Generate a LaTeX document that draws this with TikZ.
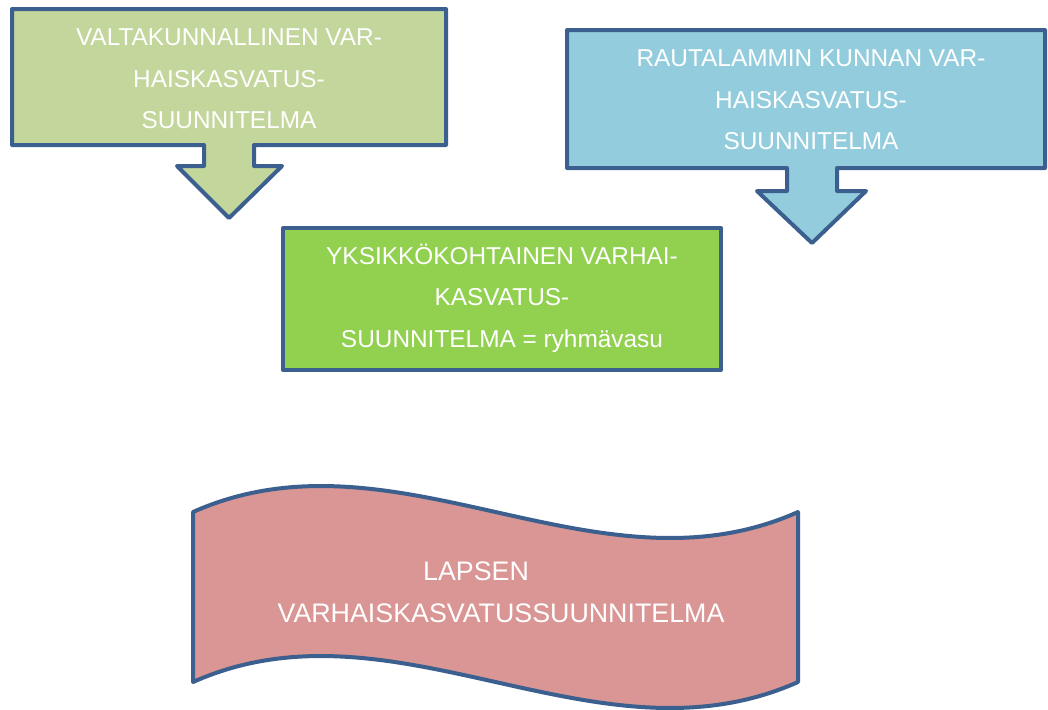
\documentclass[tikz,border=0pt]{standalone}
\usepackage{fontspec}
\setmainfont{Liberation Sans}
\definecolor{frameblue}{HTML}{3B5F8E}
\definecolor{palegreen}{HTML}{C3D69B}
\definecolor{paleblue}{HTML}{93CDDD}
\definecolor{brightgreen}{HTML}{92D050}
\definecolor{palerose}{HTML}{D99694}
\tikzset{
  shapeline/.style={line width=2pt, draw=frameblue, line join=round},
  vasutext/.style={text=white, align=center, inner sep=0pt,
    font=\fontsize{12.2}{20.8}\selectfont},
}

\begin{document}
\begin{tikzpicture}[x=0.5pt, y=-0.5pt]
			%%%%% START %%%%%
			\useasboundingbox (0, 0) rectangle (1048, 709);
			
			% valtakunnallinen
			\draw[shapeline, fill=palegreen] (12, 9) -- (446, 9) -- (446, 145) -- (254, 145) -- (254, 166) -- (282, 166)
			  -- (229, 218) -- (177, 166) -- (204, 166) -- (204, 145) -- (12, 145) -- cycle;
			\node[vasutext] (natvasu) at (229, 79) {VALTAKUNNALLINEN VAR-\\HAISKASVATUS-\\SUUNNITELMA};
			
			% kunta
			\draw[shapeline, fill=paleblue] (567, 30) -- (1045, 30) -- (1045, 168) -- (837, 168) -- (837, 191) -- (866, 191)
			  -- (812, 243) -- (757, 191) -- (787, 191) -- (787, 168) -- (567, 168) -- cycle;
			\node[vasutext] (kuntavasu) at (811, 100) {RAUTALAMMIN KUNNAN VAR-\\HAISKASVATUS-\\SUUNNITELMA};
			
			% yksikko
			\draw[shapeline, fill=brightgreen] (283, 228) rectangle (721, 370);
			\node[vasutext] (ryhmavasu) at (502, 298) {YKSIKKÖKOHTAINEN VARHAI-\\KASVATUS-\\SUUNNITELMA = ryhmävasu};
			
			% lapsi
			\draw[shapeline, fill=palerose] (193, 512) .. controls (395, 422) and (596, 602) .. (798, 512)
			  -- (798, 682) .. controls (596, 772) and (395, 592) .. (193, 682) -- cycle;
			\node[vasutext, font=\fontsize{13.4}{20.8}\selectfont] (lapsivasu) at (501, 592)
			  {LAPSEN\hspace*{25pt}\\VARHAISKASVATUSSUUNNITELMA};
			
			%%%%% END %%%%%
\end{tikzpicture}
\end{document}
